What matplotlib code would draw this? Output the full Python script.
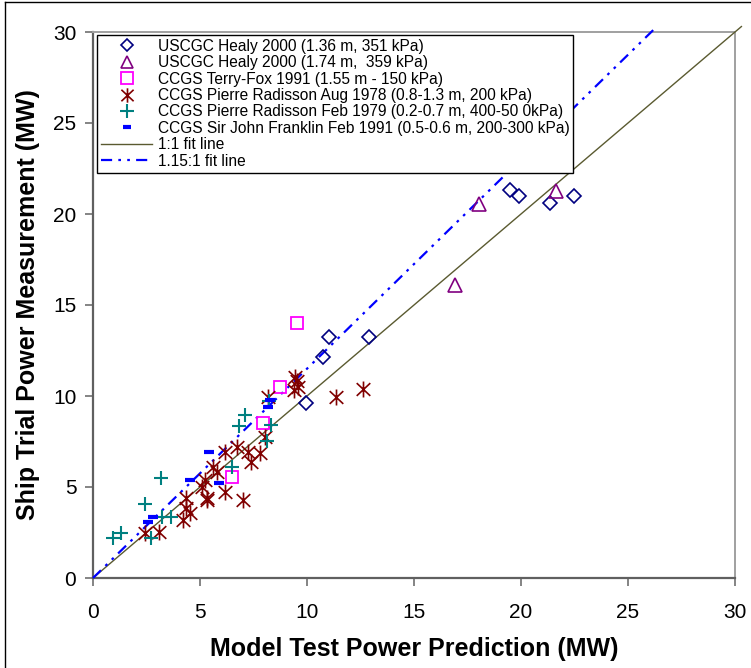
import matplotlib
matplotlib.use("Agg")
import matplotlib.pyplot as plt
from matplotlib.path import Path
from matplotlib.lines import Line2D
import numpy as np

plt.rcParams['font.family'] = ['Liberation Sans', 'DejaVu Sans']

# ---------------- data ----------------
healy136_x = [9.95, 10.73, 11.04, 12.91, 19.49, 19.91, 21.36, 22.48]
healy136_y = [9.60, 12.12, 13.26, 13.26, 21.32, 20.99, 20.62, 20.99]

healy174_x = [16.92, 18.05, 21.64]
healy174_y = [16.10, 20.55, 21.28]

terryfox_x = [6.48, 7.96, 8.74, 9.52]
terryfox_y = [5.53, 8.53, 10.51, 14.03]

radisson78_x = [2.43, 3.10, 4.22, 4.35, 4.53, 4.35, 5.08, 5.31, 5.31, 5.25, 5.62, 5.78,
                6.17, 6.17, 6.71, 7.26, 7.37, 7.80, 7.02, 8.04, 8.19, 9.44, 9.55, 9.60,
                9.40, 11.36, 12.60]
radisson78_y = [2.49, 2.54, 3.19, 3.83, 3.55, 4.38, 5.00, 4.29, 4.38, 5.38, 6.10, 5.84,
                6.94, 4.74, 7.21, 6.94, 6.39, 6.88, 4.27, 7.76, 9.96, 11.06, 10.80, 10.51,
                10.33, 9.96, 10.37]

radisson79_x = [0.92, 1.29, 2.43, 3.16, 3.21, 3.63, 2.69, 6.48, 6.84, 7.10, 8.15, 8.30, 8.24]
radisson79_y = [2.18, 2.45, 4.05, 5.48, 3.37, 3.33, 2.18, 6.12, 8.35, 8.96, 7.53, 8.40, 9.74]

franklin_x = [2.55, 2.82, 4.55, 5.40, 5.88, 8.20, 8.27]
franklin_y = [3.08, 3.33, 5.38, 6.92, 5.20, 9.40, 9.80]

fit11_x = [0.0, 30.3]
fit11_slope = 1.0
fit115_x = [0.0, 26.3]
fit115_slope = 1.15

labels = [
    "USCGC Healy 2000 (1.36 m, 351 kPa)",
    "USCGC Healy 2000 (1.74 m,  359 kPa)",
    "CCGS Terry-Fox 1991 (1.55 m - 150 kPa)",
    "CCGS Pierre Radisson Aug 1978 (0.8-1.3 m, 200 kPa)",
    "CCGS Pierre Radisson Feb 1979 (0.2-0.7 m, 400-50 0kPa)",
    "CCGS Sir John Franklin Feb 1991 (0.5-0.6 m, 200-300 kPa)",
    "1:1 fit line",
    "1.15:1 fit line",
]

ticks = [0, 5, 10, 15, 20, 25, 30]

# ---------------- figure ----------------
W, H = 751, 668
fig = plt.figure(figsize=(W / 100, H / 100), dpi=100)
ax = fig.add_axes([93 / W, 1 - 578 / H, (735 - 93) / W, (578 - 32) / H])

# asterisk marker: vertical line + X
ast_verts = [(0, -1), (0, 1),
             (-0.85, -0.8), (0.85, 0.8),
             (-0.85, 0.8), (0.85, -0.8)]
ast_codes = [Path.MOVETO, Path.LINETO] * 3
asterisk = Path(ast_verts, ast_codes)

navy = '#000080'
purple = '#800080'
magenta = '#ff00ff'
darkred = '#800000'
teal = '#008080'
blue = '#0000ff'
olive = '#5a5a30'

ax.plot(healy136_x, healy136_y, linestyle='none', marker='D', ms=7.0, mfc='none',
        mec=navy, mew=1.2, label=labels[0], zorder=5)
ax.plot(healy174_x, healy174_y, linestyle='none', marker='^', ms=9.5, mfc='none',
        mec=purple, mew=1.2, label=labels[1], zorder=5)
ax.plot(terryfox_x, terryfox_y, linestyle='none', marker='s', ms=9.0, mfc='none',
        mec=magenta, mew=1.3, label=labels[2], zorder=5)
ax.plot(radisson78_x, radisson78_y, linestyle='none', marker=asterisk, ms=11.5, mfc='none',
        mec=darkred, mew=1.2, label=labels[3], zorder=5)
ax.plot(radisson79_x, radisson79_y, linestyle='none', marker='+', ms=10.5,
        mec=teal, mew=1.5, label=labels[4], zorder=5)
ax.plot(franklin_x, franklin_y, linestyle='none', marker='_', ms=6.5,
        mec=blue, mew=3.0, label=labels[5], zorder=5)

fx = np.array(fit11_x)
ax.plot(fx, fit11_slope * fx, color=olive, lw=1.0, label=labels[6], clip_on=False, zorder=3)
fx2 = np.array(fit115_x)
ax.plot(fx2, fit115_slope * fx2, color=blue, lw=1.6, dashes=(5, 2.8, 1.2, 2.8, 1.2, 2.8),
        label=labels[7], clip_on=False, zorder=3)

ax.set_xlim(0, 30)
ax.set_ylim(0, 30)
ax.set_xticks(ticks)
ax.set_yticks(ticks)
ax.tick_params(direction='out', length=6, width=1.2, color='#707070', labelsize=15)
ax.tick_params(axis='x', pad=12)
ax.tick_params(axis='y', pad=6)
for s in ['left', 'bottom']:
    ax.spines[s].set_color('#606060')
    ax.spines[s].set_linewidth(1.6)
for s in ['top', 'right']:
    ax.spines[s].set_color('#a0a0a0')
    ax.spines[s].set_linewidth(1.4)

ax.set_xlabel("Model Test Power Prediction (MW)", fontsize=18, fontweight='bold', labelpad=11)
ax.set_ylabel("Ship Trial Power Measurement (MW)", fontsize=18, fontweight='bold', labelpad=9)

leg = ax.legend(loc='upper left', bbox_to_anchor=(4 / 642, 1 - 3 / 546), fontsize=11.2,
                frameon=True, fancybox=False, framealpha=1, edgecolor='black',
                borderpad=0.25, labelspacing=0.09, handlelength=3.3, handletextpad=0.35,
                borderaxespad=0.0, markerscale=0.9)
leg.get_frame().set_linewidth(1.0)
leg.set_zorder(10)

# figure border
fig.add_artist(Line2D([5 / W, 5 / W], [0, 1 - 2 / H], color='black', lw=1.0))
fig.add_artist(Line2D([5 / W, 1], [1 - 2 / H, 1 - 2 / H], color='black', lw=1.0))

fig.savefig("out.png", dpi=100)
